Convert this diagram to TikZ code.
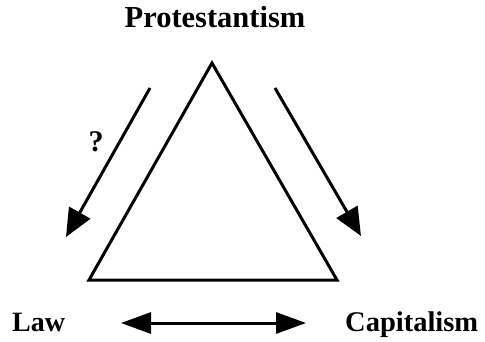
\documentclass[tikz,border=0pt]{standalone}
\usepackage{fontspec}
\setmainfont{Liberation Serif}
\usetikzlibrary{arrows.meta}
\begin{document}
\begin{tikzpicture}[x=1pt,y=1pt,
  lbl/.style={font=\fontsize{29}{35}\selectfont\bfseries, inner sep=0pt},
  qlbl/.style={font=\fontsize{30}{34}\selectfont\bfseries, inner sep=0pt},
  edge/.style={line width=3pt, line join=miter},
  arr/.style={line width=3pt, -{Triangle[length=28pt,width=24pt]}},
  darr/.style={line width=3pt, {Triangle[length=30pt,width=21pt]}-{Triangle[length=30pt,width=21pt]}}]
\useasboundingbox (0,0) rectangle (485,341);
% triangle corners
\coordinate (tl) at (89,61);
\coordinate (tr) at (337,61);
\coordinate (tt) at (212,278);
\draw[edge] (tl) -- (tr) -- (tt) -- cycle;
% labels
\node[lbl, anchor=base, font=\fontsize{30.5}{35}\selectfont\bfseries] (prot) at (215,313) {Protestantism};
\node[lbl, anchor=base west, font=\fontsize{28}{35}\selectfont\bfseries] (law) at (12,10) {Law};
\node[lbl, anchor=base west, font=\fontsize{28.5}{35}\selectfont\bfseries] (cap) at (345,10) {Capitalism};
\node[qlbl] (q) at (96,199) {?};
% arrows
\coordinate (la) at (150,253);
\coordinate (lb) at (66,104);
\draw[arr] (la) -- (lb);
\coordinate (ra) at (275,253);
\coordinate (rb) at (361,105);
\draw[arr] (ra) -- (rb);
\coordinate (ba) at (121,18);
\coordinate (bb) at (306,18);
\draw[darr] (ba) -- (bb);
\end{tikzpicture}
\end{document}
